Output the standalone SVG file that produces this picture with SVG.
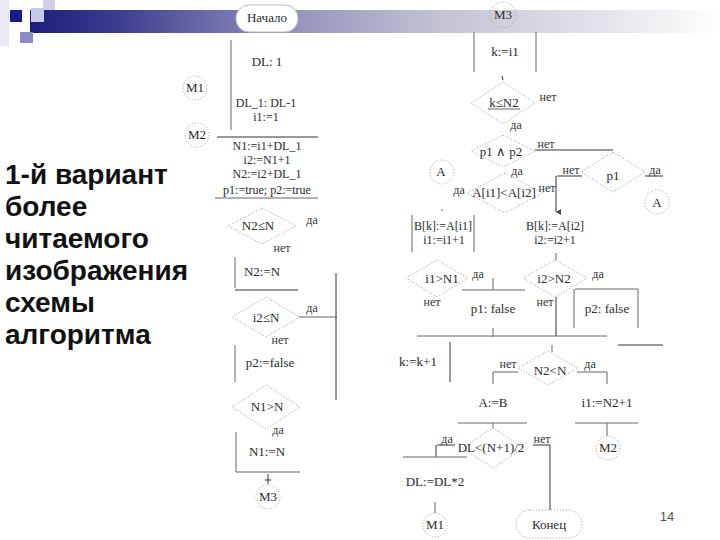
<svg xmlns="http://www.w3.org/2000/svg" width="720" height="540" viewBox="0 0 720 540">
<defs>
<linearGradient id="bar" x1="0" y1="0" x2="1" y2="0">
<stop offset="0" stop-color="#1c1c7c"/>
<stop offset="0.12" stop-color="#3a3a8e"/>
<stop offset="0.35" stop-color="#8c8cba"/>
<stop offset="0.6" stop-color="#c4c4d4"/>
<stop offset="0.85" stop-color="#e6e6ec"/>
<stop offset="1" stop-color="#ffffff"/>
</linearGradient>
<marker id="ah" markerWidth="6" markerHeight="6" refX="3" refY="5" orient="auto" markerUnits="userSpaceOnUse">
<path d="M0,0 L3,5 L6,0 Z" fill="#444"/>
</marker>
</defs>
<style>
.t{font-family:"Liberation Serif","Times New Roman",serif;font-size:13px;fill:#2a2a2a;text-anchor:middle}
.s{font-family:"Liberation Serif","Times New Roman",serif;font-size:12px;fill:#2a2a2a;text-anchor:middle}
.l{font-family:"Liberation Serif","Times New Roman",serif;font-size:12px;fill:#333;text-anchor:middle}
.big{font-family:"Liberation Sans",Arial,sans-serif;font-size:28px;font-weight:bold;fill:#111}
.ln{stroke:#666;stroke-width:1;fill:none}
.dk{stroke:#333;stroke-width:1;fill:none}
.d{stroke:#999;stroke-width:1;stroke-dasharray:1 2;fill:none}
</style>
<rect width="720" height="540" fill="#ffffff"/>
<g id="header">
<rect x="0" y="0" width="9" height="46" fill="#e8e9f4"/>
<rect x="30" y="10" width="690" height="23" fill="url(#bar)"/>
<rect x="31" y="8" width="13" height="14" fill="#c8c9e6"/>
<rect x="43" y="0" width="12" height="10" fill="#d0d0e6"/>
<rect x="10" y="10" width="12" height="12" fill="#1a1a8a"/>
<rect x="20" y="32" width="13" height="11" fill="#8a8ac6"/>
</g>
<g id="caption">
<text class="big" x="5" y="184">1-й вариант</text>
<text class="big" x="5" y="216">более</text>
<text class="big" x="5" y="248">читаемого</text>
<text class="big" x="5" y="280">изображения</text>
<text class="big" x="5" y="312">схемы</text>
<text class="big" x="5" y="344">алгоритма</text>
</g>
<g id="connectors">
<line class="ln" x1="231" y1="40" x2="231" y2="130"/>
<line class="dk" x1="217" y1="137" x2="318" y2="137"/>
<line class="ln" x1="215" y1="198" x2="318" y2="198"/>
<line class="ln" x1="235" y1="257" x2="235" y2="288"/>
<line class="dk" x1="235" y1="290" x2="298" y2="290"/>
<line class="ln" x1="299" y1="317" x2="337" y2="317"/>
<line class="dk" x1="336" y1="273" x2="336" y2="400"/>
<line class="ln" x1="235" y1="345" x2="235" y2="382"/>
<line class="ln" x1="236" y1="432" x2="236" y2="472"/>
<line class="ln" x1="236" y1="472" x2="300" y2="472"/>
<line class="dk" x1="268" y1="474" x2="268" y2="484"/>
<line class="dk" x1="265" y1="480" x2="271" y2="480"/>
<line class="ln" x1="474" y1="32" x2="474" y2="72"/>
<line class="ln" x1="536" y1="32" x2="536" y2="72"/>
<line class="dk" x1="502" y1="76" x2="503" y2="80"/>
<line class="dk" x1="535" y1="150" x2="613" y2="150"/>
<line class="dk" x1="557" y1="176" x2="582" y2="176"/>
<line class="dk" x1="556" y1="176" x2="556" y2="212" marker-end="url(#ah)"/>
<line class="dk" x1="645" y1="176" x2="663" y2="176"/>
<line class="ln" x1="412" y1="215" x2="412" y2="252"/>
<line class="ln" x1="474" y1="215" x2="474" y2="252"/>
<line class="ln" x1="556" y1="253" x2="556" y2="260"/>
<line class="ln" x1="493" y1="278" x2="493" y2="290"/>
<line class="ln" x1="462" y1="290" x2="525" y2="290"/>
<line class="ln" x1="493" y1="328" x2="493" y2="337"/>
<line class="ln" x1="575" y1="289" x2="638" y2="289"/>
<line class="ln" x1="574" y1="289" x2="574" y2="328"/>
<line class="ln" x1="638" y1="289" x2="638" y2="328"/>
<line class="dk" x1="556" y1="297" x2="556" y2="336"/>
<line class="ln" x1="417" y1="336" x2="607" y2="336"/>
<line class="dk" x1="450" y1="342" x2="450" y2="382"/>
<line class="dk" x1="618" y1="345" x2="663" y2="345"/>
<line class="ln" x1="552" y1="345" x2="552" y2="352"/>
<line class="ln" x1="493" y1="372" x2="518" y2="372"/>
<line class="ln" x1="493" y1="372" x2="493" y2="384"/>
<line class="ln" x1="577" y1="372" x2="607" y2="372"/>
<line class="ln" x1="607" y1="372" x2="607" y2="384"/>
<line class="ln" x1="458" y1="423" x2="527" y2="423"/>
<line class="ln" x1="575" y1="423" x2="638" y2="423"/>
<line class="ln" x1="493" y1="423" x2="493" y2="428"/>
<line class="ln" x1="607" y1="423" x2="607" y2="436"/>
<line class="dk" x1="437" y1="445" x2="455" y2="445"/>
<line class="dk" x1="436" y1="445" x2="436" y2="457"/>
<line class="ln" x1="403" y1="457" x2="467" y2="457"/>
<line class="dk" x1="533" y1="445" x2="550" y2="445"/>
<line class="dk" x1="550" y1="445" x2="550" y2="510"/>
<line class="ln" x1="435" y1="502" x2="435" y2="513"/>
</g>
<g id="n-start">
<rect x="236" y="5" width="62" height="27" rx="13" fill="#fff" stroke="#bbb"/>
<text class="t" x="267" y="22">Начало</text>
</g>
<g id="n-init">
<text class="t" x="267" y="66">DL: 1</text>
</g>
<g id="n-m1a"><circle class="d" cx="195" cy="88" r="12"/><text class="t" x="195" y="92">M1</text></g>
<g id="n-dl1">
<text class="s" x="266" y="107">DL_1: DL-1</text>
<text class="s" x="266" y="121">i1:=1</text>
</g>
<g id="n-m2a"><circle class="d" cx="197" cy="135" r="12"/><text class="t" x="197" y="139">M2</text></g>
<g id="n-calc">
<text class="s" x="267" y="150">N1:=i1+DL_1</text>
<text class="s" x="267" y="164">i2:=N1+1</text>
<text class="s" x="267" y="178">N2:=i2+DL_1</text>
<text class="s" x="267" y="194">p1:=true; p2:=true</text>
</g>
<g id="n-d1">
<polygon class="d" points="262,208 296,226 262,244 228,226"/>
<text class="t" x="258" y="230">N2≤N</text>
<text class="l" x="312" y="224">да</text>
<text class="l" x="282" y="252">нет</text>
</g>
<g id="n-n2"><text class="t" x="262" y="276">N2:=N</text></g>
<g id="n-d2">
<polygon class="d" points="266,297 300,317 266,337 232,317"/>
<text class="t" x="266" y="322">i2≤N</text>
<text class="l" x="312" y="312">да</text>
<text class="l" x="280" y="344">нет</text>
</g>
<g id="n-p2f"><text class="t" x="270" y="367">p2:=false</text></g>
<g id="n-d3">
<polygon class="d" points="266,385 300,407 266,429 232,407"/>
<text class="t" x="267" y="411">N1&gt;N</text>
<text class="l" x="278" y="434">да</text>
</g>
<g id="n-n1"><text class="t" x="267" y="456">N1:=N</text></g>
<g id="n-m3a"><circle class="d" cx="268" cy="497" r="12"/><text class="t" x="268" y="501">M3</text></g>
<g id="n-m3b"><circle class="d" cx="503" cy="15" r="13"/><text class="t" x="503" y="19">M3</text></g>
<g id="n-k"><text class="t" x="505" y="56">k:=i1</text></g>
<g id="n-d4">
<polygon class="d" points="503,82 535,103 503,124 471,103"/>
<text class="t" x="504" y="107">k≤N2</text>
<line class="ln" x1="488" y1="109" x2="520" y2="109"/>
<text class="l" x="548" y="101">нет</text>
<text class="l" x="516" y="129">да</text>
</g>
<g id="n-d5">
<polygon class="d" points="503,135 535,151 503,167 471,151"/>
<text class="t" x="501" y="156">p1 ∧ p2</text>
<text class="l" x="546" y="148">нет</text>
<text class="l" x="517" y="175">да</text>
</g>
<g id="n-ac1"><circle class="d" cx="442" cy="172" r="12"/><text class="t" x="441" y="176">A</text>
<text class="l" x="459" y="194">да</text></g>
<g id="n-d6">
<polygon class="d" points="505,173 543,193 505,213 467,193"/>
<text class="t" x="504" y="197">A[i1]&lt;A[i2]</text>
<text class="l" x="547" y="192">нет</text>
</g>
<g id="n-d7">
<polygon class="d" points="613,152 645,172 613,192 581,172"/>
<text class="t" x="613" y="180">p1</text>
<text class="l" x="571" y="174">нет</text>
<text class="l" x="655" y="174">да</text>
</g>
<g id="n-ac2"><circle class="d" cx="657" cy="202" r="12"/><text class="t" x="657" y="207">A</text></g>
<g id="n-b1">
<circle cx="442" cy="210" r="0.8" fill="#444"/>
<text class="s" x="443" y="230">B[k]:=A[i1]</text>
<text class="s" x="444" y="244">i1:=i1+1</text>
</g>
<g id="n-b2">
<text class="s" x="555" y="230">B[k]:=A[i2]</text>
<text class="s" x="555" y="244">i2:=i2+1</text>
</g>
<g id="n-d8">
<polygon class="d" points="437,260 468,278 437,297 406,278"/>
<text class="t" x="442" y="283">i1&gt;N1</text>
<text class="l" x="478" y="278">да</text>
<text class="l" x="432" y="306">нет</text>
</g>
<g id="n-p1f"><text class="t" x="493" y="313">p1: false</text></g>
<g id="n-d9">
<polygon class="d" points="555,260 587,278 555,297 523,278"/>
<text class="t" x="554" y="283">i2&gt;N2</text>
<text class="l" x="598" y="278">да</text>
<text class="l" x="545" y="306">нет</text>
</g>
<g id="n-p2f2"><text class="t" x="607" y="313">p2: false</text></g>
<g id="n-kk"><text class="t" x="418" y="366">k:=k+1</text></g>
<g id="n-d10">
<polygon class="d" points="548,351 578,368 548,385 518,368"/>
<text class="t" x="550" y="375">N2&lt;N</text>
<text class="l" x="508" y="368">нет</text>
<text class="l" x="590" y="368">да</text>
</g>
<g id="n-ab"><text class="t" x="493" y="407">A:=B</text></g>
<g id="n-i1"><text class="t" x="607" y="407">i1:=N2+1</text></g>
<g id="n-d11">
<polygon class="d" points="493,428 524,448 493,468 462,448"/>
<text class="t" x="491" y="452">DL&lt;(N+1)/2</text>
<text class="l" x="447" y="443">да</text>
<text class="l" x="542" y="443">нет</text>
</g>
<g id="n-m2b"><circle class="d" cx="608" cy="448" r="12"/><text class="t" x="608" y="452">M2</text></g>
<g id="n-dl2"><text class="t" x="435" y="486">DL:=DL*2</text></g>
<g id="n-m1b"><circle class="d" cx="435" cy="525" r="12"/><text class="t" x="435" y="529">M1</text></g>
<g id="n-end">
<rect class="d" x="516" y="510" width="66" height="28" rx="14"/>
<text class="t" x="549" y="529">Конец</text>
</g>
<text x="667" y="521" font-family="Liberation Sans,Arial,sans-serif" font-size="13" fill="#555" text-anchor="middle">14</text>
</svg>
